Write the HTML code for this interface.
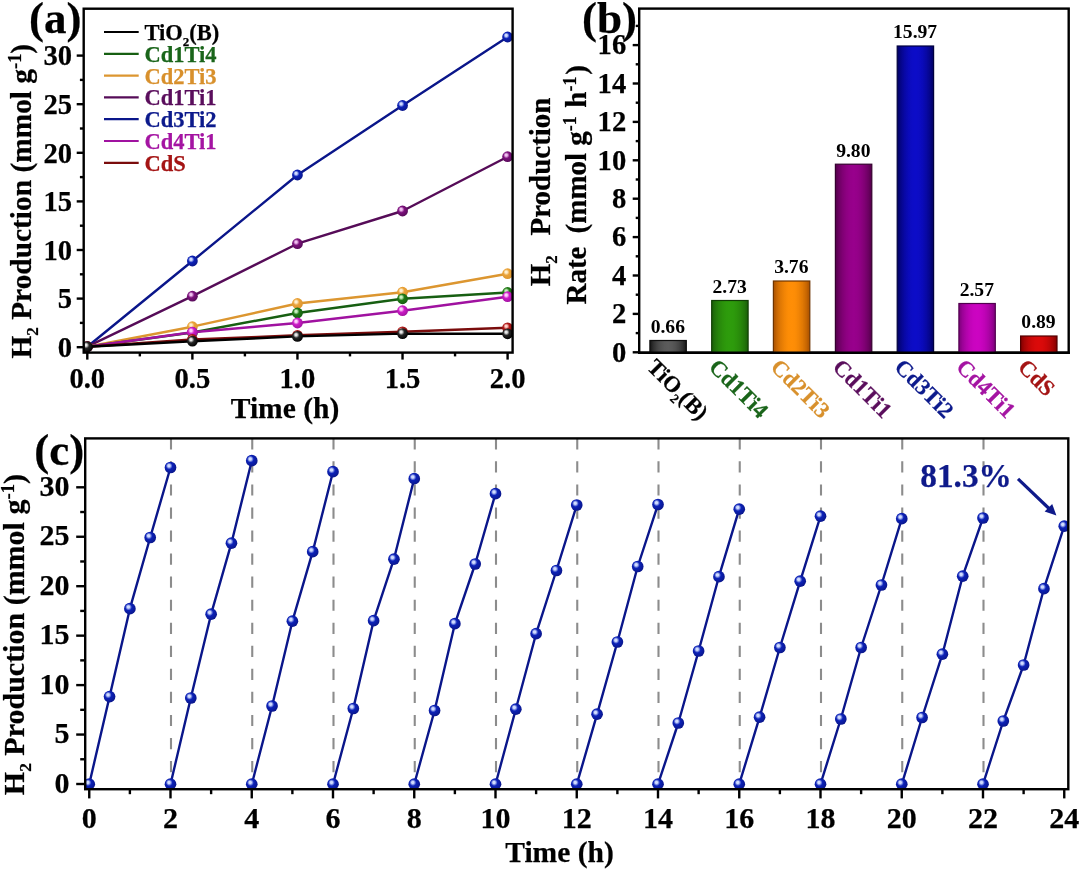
<!DOCTYPE html>
<html lang="en"><head><meta charset="utf-8"><title>H2 production figure</title>
<style>
html,body{margin:0;padding:0;background:#fff;}
body{width:1080px;height:871px;overflow:hidden;font-family:"Liberation Serif", serif;}
svg{display:block;filter:blur(0.35px);}
svg text{stroke-width:0.25px;stroke-linejoin:round;}
</style></head><body>
<svg width="1080" height="871" viewBox="0 0 1080 871" font-family='"Liberation Serif", serif' font-weight="bold">
<defs>
<radialGradient id="sk" cx="0.42" cy="0.40" r="0.62" fx="0.36" fy="0.34"><stop offset="0" stop-color="#e8e8e8"/><stop offset="0.16" stop-color="#e8e8e8"/><stop offset="0.46" stop-color="#262626"/><stop offset="1" stop-color="#000000"/></radialGradient>
<radialGradient id="sg" cx="0.42" cy="0.40" r="0.62" fx="0.36" fy="0.34"><stop offset="0" stop-color="#c8f0c0"/><stop offset="0.16" stop-color="#c8f0c0"/><stop offset="0.46" stop-color="#1f7a14"/><stop offset="1" stop-color="#175f12"/></radialGradient>
<radialGradient id="so" cx="0.42" cy="0.40" r="0.62" fx="0.36" fy="0.34"><stop offset="0" stop-color="#fff0d0"/><stop offset="0.16" stop-color="#fff0d0"/><stop offset="0.46" stop-color="#eaa238"/><stop offset="1" stop-color="#dc9630"/></radialGradient>
<radialGradient id="sp" cx="0.42" cy="0.40" r="0.62" fx="0.36" fy="0.34"><stop offset="0" stop-color="#f0c0f0"/><stop offset="0.16" stop-color="#f0c0f0"/><stop offset="0.46" stop-color="#7c107c"/><stop offset="1" stop-color="#560c58"/></radialGradient>
<radialGradient id="sb" cx="0.42" cy="0.40" r="0.62" fx="0.36" fy="0.34"><stop offset="0" stop-color="#d0dcff"/><stop offset="0.16" stop-color="#d0dcff"/><stop offset="0.46" stop-color="#0c22b8"/><stop offset="1" stop-color="#0a168a"/></radialGradient>
<radialGradient id="sm" cx="0.42" cy="0.40" r="0.62" fx="0.36" fy="0.34"><stop offset="0" stop-color="#ffd0fc"/><stop offset="0.16" stop-color="#ffd0fc"/><stop offset="0.46" stop-color="#cc1cc6"/><stop offset="1" stop-color="#a012a0"/></radialGradient>
<radialGradient id="sr" cx="0.42" cy="0.40" r="0.62" fx="0.36" fy="0.34"><stop offset="0" stop-color="#ffd0c8"/><stop offset="0.16" stop-color="#ffd0c8"/><stop offset="0.46" stop-color="#b01818"/><stop offset="1" stop-color="#7a0c0c"/></radialGradient>
<linearGradient id="bk" x1="0" x2="1" y1="0" y2="0"><stop offset="0.0" stop-color="#161616"/><stop offset="0.1" stop-color="#313131"/><stop offset="0.2" stop-color="#444444"/><stop offset="0.3" stop-color="#515151"/><stop offset="0.4" stop-color="#595959"/><stop offset="0.5" stop-color="#5c5c5c"/><stop offset="0.6" stop-color="#595959"/><stop offset="0.7" stop-color="#515151"/><stop offset="0.8" stop-color="#444444"/><stop offset="0.9" stop-color="#313131"/><stop offset="1.0" stop-color="#161616"/></linearGradient>
<linearGradient id="bg" x1="0" x2="1" y1="0" y2="0"><stop offset="0.0" stop-color="#1a5e08"/><stop offset="0.1" stop-color="#22760a"/><stop offset="0.2" stop-color="#27870b"/><stop offset="0.3" stop-color="#2b920b"/><stop offset="0.4" stop-color="#2d9a0c"/><stop offset="0.5" stop-color="#2e9c0c"/><stop offset="0.6" stop-color="#2d9a0c"/><stop offset="0.7" stop-color="#2b920b"/><stop offset="0.8" stop-color="#27870b"/><stop offset="0.9" stop-color="#22760a"/><stop offset="1.0" stop-color="#1a5e08"/></linearGradient>
<linearGradient id="bo" x1="0" x2="1" y1="0" y2="0"><stop offset="0.0" stop-color="#a85000"/><stop offset="0.1" stop-color="#ca6802"/><stop offset="0.2" stop-color="#e17904"/><stop offset="0.3" stop-color="#f18405"/><stop offset="0.4" stop-color="#fc8c06"/><stop offset="0.5" stop-color="#ff8e06"/><stop offset="0.6" stop-color="#fc8c06"/><stop offset="0.7" stop-color="#f18405"/><stop offset="0.8" stop-color="#e17904"/><stop offset="0.9" stop-color="#ca6802"/><stop offset="1.0" stop-color="#a85000"/></linearGradient>
<linearGradient id="bp" x1="0" x2="1" y1="0" y2="0"><stop offset="0.0" stop-color="#520048"/><stop offset="0.1" stop-color="#6d0063"/><stop offset="0.2" stop-color="#800074"/><stop offset="0.3" stop-color="#8d0081"/><stop offset="0.4" stop-color="#950089"/><stop offset="0.5" stop-color="#98008c"/><stop offset="0.6" stop-color="#950089"/><stop offset="0.7" stop-color="#8d0081"/><stop offset="0.8" stop-color="#800074"/><stop offset="0.9" stop-color="#6d0063"/><stop offset="1.0" stop-color="#520048"/></linearGradient>
<linearGradient id="bb" x1="0" x2="1" y1="0" y2="0"><stop offset="0.0" stop-color="#000060"/><stop offset="0.1" stop-color="#050589"/><stop offset="0.2" stop-color="#0808a4"/><stop offset="0.3" stop-color="#0a0ab8"/><stop offset="0.4" stop-color="#0c0cc4"/><stop offset="0.5" stop-color="#0c0cc8"/><stop offset="0.6" stop-color="#0c0cc4"/><stop offset="0.7" stop-color="#0a0ab8"/><stop offset="0.8" stop-color="#0808a4"/><stop offset="0.9" stop-color="#050589"/><stop offset="1.0" stop-color="#000060"/></linearGradient>
<linearGradient id="bm" x1="0" x2="1" y1="0" y2="0"><stop offset="0.0" stop-color="#7c007a"/><stop offset="0.1" stop-color="#9b0296"/><stop offset="0.2" stop-color="#b003a9"/><stop offset="0.3" stop-color="#c003b7"/><stop offset="0.4" stop-color="#c904bf"/><stop offset="0.5" stop-color="#cc04c2"/><stop offset="0.6" stop-color="#c904bf"/><stop offset="0.7" stop-color="#c003b7"/><stop offset="0.8" stop-color="#b003a9"/><stop offset="0.9" stop-color="#9b0296"/><stop offset="1.0" stop-color="#7c007a"/></linearGradient>
<linearGradient id="br" x1="0" x2="1" y1="0" y2="0"><stop offset="0.0" stop-color="#800000"/><stop offset="0.1" stop-color="#a40404"/><stop offset="0.2" stop-color="#bc0707"/><stop offset="0.3" stop-color="#ce0808"/><stop offset="0.4" stop-color="#d80a0a"/><stop offset="0.5" stop-color="#dc0a0a"/><stop offset="0.6" stop-color="#d80a0a"/><stop offset="0.7" stop-color="#ce0808"/><stop offset="0.8" stop-color="#bc0707"/><stop offset="0.9" stop-color="#a40404"/><stop offset="1.0" stop-color="#800000"/></linearGradient>
</defs>
<line x1="76.70" y1="347.20" x2="83.70" y2="347.20" stroke="#000" stroke-width="2.4" />
<text x="72.10" y="356.90" font-size="28.6" text-anchor="end" fill="#000" stroke="#000" >0</text>
<line x1="79.90" y1="322.90" x2="83.70" y2="322.90" stroke="#000" stroke-width="2.4" />
<line x1="76.70" y1="298.60" x2="83.70" y2="298.60" stroke="#000" stroke-width="2.4" />
<text x="72.10" y="308.30" font-size="28.6" text-anchor="end" fill="#000" stroke="#000" >5</text>
<line x1="79.90" y1="274.30" x2="83.70" y2="274.30" stroke="#000" stroke-width="2.4" />
<line x1="76.70" y1="250.00" x2="83.70" y2="250.00" stroke="#000" stroke-width="2.4" />
<text x="72.10" y="259.70" font-size="28.6" text-anchor="end" fill="#000" stroke="#000" >10</text>
<line x1="79.90" y1="225.70" x2="83.70" y2="225.70" stroke="#000" stroke-width="2.4" />
<line x1="76.70" y1="201.40" x2="83.70" y2="201.40" stroke="#000" stroke-width="2.4" />
<text x="72.10" y="211.10" font-size="28.6" text-anchor="end" fill="#000" stroke="#000" >15</text>
<line x1="79.90" y1="177.10" x2="83.70" y2="177.10" stroke="#000" stroke-width="2.4" />
<line x1="76.70" y1="152.80" x2="83.70" y2="152.80" stroke="#000" stroke-width="2.4" />
<text x="72.10" y="162.50" font-size="28.6" text-anchor="end" fill="#000" stroke="#000" >20</text>
<line x1="79.90" y1="128.50" x2="83.70" y2="128.50" stroke="#000" stroke-width="2.4" />
<line x1="76.70" y1="104.20" x2="83.70" y2="104.20" stroke="#000" stroke-width="2.4" />
<text x="72.10" y="113.90" font-size="28.6" text-anchor="end" fill="#000" stroke="#000" >25</text>
<line x1="79.90" y1="79.90" x2="83.70" y2="79.90" stroke="#000" stroke-width="2.4" />
<line x1="76.70" y1="55.60" x2="83.70" y2="55.60" stroke="#000" stroke-width="2.4" />
<text x="72.10" y="65.30" font-size="28.6" text-anchor="end" fill="#000" stroke="#000" >30</text>
<line x1="87.30" y1="352.60" x2="87.30" y2="359.60" stroke="#000" stroke-width="2.4" />
<text x="87.30" y="388.00" font-size="28.6" text-anchor="middle" fill="#000" stroke="#000" >0.0</text>
<line x1="139.84" y1="352.60" x2="139.84" y2="356.40" stroke="#000" stroke-width="2.4" />
<line x1="192.38" y1="352.60" x2="192.38" y2="359.60" stroke="#000" stroke-width="2.4" />
<text x="192.38" y="388.00" font-size="28.6" text-anchor="middle" fill="#000" stroke="#000" >0.5</text>
<line x1="244.91" y1="352.60" x2="244.91" y2="356.40" stroke="#000" stroke-width="2.4" />
<line x1="297.45" y1="352.60" x2="297.45" y2="359.60" stroke="#000" stroke-width="2.4" />
<text x="297.45" y="388.00" font-size="28.6" text-anchor="middle" fill="#000" stroke="#000" >1.0</text>
<line x1="349.99" y1="352.60" x2="349.99" y2="356.40" stroke="#000" stroke-width="2.4" />
<line x1="402.53" y1="352.60" x2="402.53" y2="359.60" stroke="#000" stroke-width="2.4" />
<text x="402.53" y="388.00" font-size="28.6" text-anchor="middle" fill="#000" stroke="#000" >1.5</text>
<line x1="455.06" y1="352.60" x2="455.06" y2="356.40" stroke="#000" stroke-width="2.4" />
<line x1="507.60" y1="352.60" x2="507.60" y2="359.60" stroke="#000" stroke-width="2.4" />
<text x="507.60" y="388.00" font-size="28.6" text-anchor="middle" fill="#000" stroke="#000" >2.0</text>
<text x="285.00" y="418.30" font-size="29.5" text-anchor="middle" fill="#000" stroke="#000" >Time (h)</text>
<text transform="translate(30.6,358.6) rotate(-90)" font-size="29.4" text-anchor="start" stroke="#000">H<tspan dy="7.3" font-size="17.1">2</tspan><tspan dy="-7.3"> Production (mmol g</tspan><tspan dy="-9.7" font-size="18.2">-1</tspan><tspan dy="9.7">)</tspan></text>
<text x="29.00" y="33.00" font-size="45" text-anchor="start" fill="#000" stroke="#000" >(a)</text>
<clipPath id="clipA"><rect x="83.7" y="8.7" width="428.90000000000003" height="343.90000000000003"/></clipPath>
<g clip-path="url(#clipA)">
<polyline points="87.3,346.7 192.4,261.0 297.4,175.0 402.5,105.5 507.6,37.0" fill="none" stroke="#0a168a" stroke-width="2.4" stroke-linejoin="round"/>
<circle cx="87.30" cy="346.70" r="5.4" fill="url(#sb)"/>
<circle cx="192.38" cy="261.00" r="5.4" fill="url(#sb)"/>
<circle cx="297.45" cy="175.00" r="5.4" fill="url(#sb)"/>
<circle cx="402.53" cy="105.50" r="5.4" fill="url(#sb)"/>
<circle cx="507.60" cy="37.00" r="5.4" fill="url(#sb)"/>
<polyline points="87.3,346.7 192.4,296.2 297.4,243.7 402.5,211.0 507.6,156.7" fill="none" stroke="#560c58" stroke-width="2.4" stroke-linejoin="round"/>
<circle cx="87.30" cy="346.70" r="5.4" fill="url(#sp)"/>
<circle cx="192.38" cy="296.20" r="5.4" fill="url(#sp)"/>
<circle cx="297.45" cy="243.70" r="5.4" fill="url(#sp)"/>
<circle cx="402.53" cy="211.00" r="5.4" fill="url(#sp)"/>
<circle cx="507.60" cy="156.70" r="5.4" fill="url(#sp)"/>
<polyline points="87.3,346.7 192.4,326.7 297.4,303.5 402.5,292.2 507.6,273.7" fill="none" stroke="#dc9630" stroke-width="2.4" stroke-linejoin="round"/>
<circle cx="87.30" cy="346.70" r="5.4" fill="url(#so)"/>
<circle cx="192.38" cy="326.70" r="5.4" fill="url(#so)"/>
<circle cx="297.45" cy="303.50" r="5.4" fill="url(#so)"/>
<circle cx="402.53" cy="292.20" r="5.4" fill="url(#so)"/>
<circle cx="507.60" cy="273.70" r="5.4" fill="url(#so)"/>
<polyline points="87.3,346.7 192.4,332.5 297.4,313.0 402.5,298.8 507.6,292.5" fill="none" stroke="#175f12" stroke-width="2.4" stroke-linejoin="round"/>
<circle cx="87.30" cy="346.70" r="5.4" fill="url(#sg)"/>
<circle cx="192.38" cy="332.50" r="5.4" fill="url(#sg)"/>
<circle cx="297.45" cy="313.00" r="5.4" fill="url(#sg)"/>
<circle cx="402.53" cy="298.80" r="5.4" fill="url(#sg)"/>
<circle cx="507.60" cy="292.50" r="5.4" fill="url(#sg)"/>
<polyline points="87.3,346.7 192.4,332.2 297.4,323.0 402.5,310.7 507.6,296.7" fill="none" stroke="#a012a0" stroke-width="2.4" stroke-linejoin="round"/>
<circle cx="87.30" cy="346.70" r="5.4" fill="url(#sm)"/>
<circle cx="192.38" cy="332.20" r="5.4" fill="url(#sm)"/>
<circle cx="297.45" cy="323.00" r="5.4" fill="url(#sm)"/>
<circle cx="402.53" cy="310.70" r="5.4" fill="url(#sm)"/>
<circle cx="507.60" cy="296.70" r="5.4" fill="url(#sm)"/>
<polyline points="87.3,346.7 192.4,339.5 297.4,335.3 402.5,331.8 507.6,327.8" fill="none" stroke="#7a0c0c" stroke-width="2.4" stroke-linejoin="round"/>
<circle cx="87.30" cy="346.70" r="5.4" fill="url(#sr)"/>
<circle cx="192.38" cy="339.50" r="5.4" fill="url(#sr)"/>
<circle cx="297.45" cy="335.30" r="5.4" fill="url(#sr)"/>
<circle cx="402.53" cy="331.80" r="5.4" fill="url(#sr)"/>
<circle cx="507.60" cy="327.80" r="5.4" fill="url(#sr)"/>
<polyline points="87.3,346.7 192.4,341.2 297.4,336.4 402.5,333.6 507.6,333.8" fill="none" stroke="#000000" stroke-width="2.4" stroke-linejoin="round"/>
<circle cx="87.30" cy="346.70" r="5.4" fill="url(#sk)"/>
<circle cx="192.38" cy="341.20" r="5.4" fill="url(#sk)"/>
<circle cx="297.45" cy="336.40" r="5.4" fill="url(#sk)"/>
<circle cx="402.53" cy="333.60" r="5.4" fill="url(#sk)"/>
<circle cx="507.60" cy="333.80" r="5.4" fill="url(#sk)"/>
</g>
<rect x="83.7" y="8.7" width="428.90000000000003" height="343.90000000000003" fill="none" stroke="#000" stroke-width="2.4"/>
<line x1="104.00" y1="32.00" x2="138.70" y2="32.00" stroke="#000000" stroke-width="2.2" />
<text x="144.50" y="39.90" font-size="22.5" text-anchor="start" fill="#000000" stroke="#000000" >TiO<tspan dy="5.6" font-size="13.0">2</tspan><tspan dy="-5.6">(B)</tspan></text>
<line x1="104.00" y1="53.80" x2="138.70" y2="53.80" stroke="#175f12" stroke-width="2.2" />
<text x="144.50" y="61.70" font-size="22.5" text-anchor="start" fill="#1a651a" stroke="#1a651a" >Cd1Ti4</text>
<line x1="104.00" y1="75.60" x2="138.70" y2="75.60" stroke="#dc9630" stroke-width="2.2" />
<text x="144.50" y="83.50" font-size="22.5" text-anchor="start" fill="#d8902c" stroke="#d8902c" >Cd2Ti3</text>
<line x1="104.00" y1="97.40" x2="138.70" y2="97.40" stroke="#560c58" stroke-width="2.2" />
<text x="144.50" y="105.30" font-size="22.5" text-anchor="start" fill="#5a0e5c" stroke="#5a0e5c" >Cd1Ti1</text>
<line x1="104.00" y1="119.20" x2="138.70" y2="119.20" stroke="#0a168a" stroke-width="2.2" />
<text x="144.50" y="127.10" font-size="22.5" text-anchor="start" fill="#0c1a8c" stroke="#0c1a8c" >Cd3Ti2</text>
<line x1="104.00" y1="141.00" x2="138.70" y2="141.00" stroke="#a012a0" stroke-width="2.2" />
<text x="144.50" y="148.90" font-size="22.5" text-anchor="start" fill="#a414a2" stroke="#a414a2" >Cd4Ti1</text>
<line x1="104.00" y1="162.80" x2="138.70" y2="162.80" stroke="#7a0c0c" stroke-width="2.2" />
<text x="144.50" y="170.70" font-size="22.5" text-anchor="start" fill="#a41414" stroke="#a41414" >CdS</text>
<rect x="639.2" y="8.6" width="429.5" height="344.09999999999997" fill="none" stroke="#000" stroke-width="2.4"/>
<line x1="632.70" y1="352.30" x2="639.20" y2="352.30" stroke="#000" stroke-width="2.4" />
<text x="626.20" y="361.60" font-size="28.6" text-anchor="end" fill="#000" stroke="#000" >0</text>
<line x1="635.70" y1="333.10" x2="639.20" y2="333.10" stroke="#000" stroke-width="2.4" />
<line x1="632.70" y1="313.90" x2="639.20" y2="313.90" stroke="#000" stroke-width="2.4" />
<text x="626.20" y="323.20" font-size="28.6" text-anchor="end" fill="#000" stroke="#000" >2</text>
<line x1="635.70" y1="294.70" x2="639.20" y2="294.70" stroke="#000" stroke-width="2.4" />
<line x1="632.70" y1="275.50" x2="639.20" y2="275.50" stroke="#000" stroke-width="2.4" />
<text x="626.20" y="284.80" font-size="28.6" text-anchor="end" fill="#000" stroke="#000" >4</text>
<line x1="635.70" y1="256.30" x2="639.20" y2="256.30" stroke="#000" stroke-width="2.4" />
<line x1="632.70" y1="237.10" x2="639.20" y2="237.10" stroke="#000" stroke-width="2.4" />
<text x="626.20" y="246.40" font-size="28.6" text-anchor="end" fill="#000" stroke="#000" >6</text>
<line x1="635.70" y1="217.90" x2="639.20" y2="217.90" stroke="#000" stroke-width="2.4" />
<line x1="632.70" y1="198.70" x2="639.20" y2="198.70" stroke="#000" stroke-width="2.4" />
<text x="626.20" y="208.00" font-size="28.6" text-anchor="end" fill="#000" stroke="#000" >8</text>
<line x1="635.70" y1="179.50" x2="639.20" y2="179.50" stroke="#000" stroke-width="2.4" />
<line x1="632.70" y1="160.30" x2="639.20" y2="160.30" stroke="#000" stroke-width="2.4" />
<text x="626.20" y="169.60" font-size="28.6" text-anchor="end" fill="#000" stroke="#000" >10</text>
<line x1="635.70" y1="141.10" x2="639.20" y2="141.10" stroke="#000" stroke-width="2.4" />
<line x1="632.70" y1="121.90" x2="639.20" y2="121.90" stroke="#000" stroke-width="2.4" />
<text x="626.20" y="131.20" font-size="28.6" text-anchor="end" fill="#000" stroke="#000" >12</text>
<line x1="635.70" y1="102.70" x2="639.20" y2="102.70" stroke="#000" stroke-width="2.4" />
<line x1="632.70" y1="83.50" x2="639.20" y2="83.50" stroke="#000" stroke-width="2.4" />
<text x="626.20" y="92.80" font-size="28.6" text-anchor="end" fill="#000" stroke="#000" >14</text>
<line x1="635.70" y1="64.30" x2="639.20" y2="64.30" stroke="#000" stroke-width="2.4" />
<line x1="632.70" y1="45.10" x2="639.20" y2="45.10" stroke="#000" stroke-width="2.4" />
<text x="626.20" y="54.40" font-size="28.6" text-anchor="end" fill="#000" stroke="#000" >16</text>
<line x1="635.70" y1="25.90" x2="639.20" y2="25.90" stroke="#000" stroke-width="2.4" />
<rect x="649.9" y="340.5" width="36.4" height="12.2" fill="url(#bk)" stroke="#0e0e0e" stroke-width="1.2"/>
<text x="667.80" y="332.90" font-size="19.6" text-anchor="middle" fill="#000" stroke="#000" style="stroke-width:0">0.66</text>
<text transform="translate(646.0,368.2) rotate(45)" font-size="22.6" text-anchor="start" fill="#000000" stroke="#000000">TiO<tspan dy="5.7" font-size="13.1">2</tspan><tspan dy="-5.7">(B)</tspan></text>
<rect x="711.7" y="300.5" width="36.4" height="52.2" fill="url(#bg)" stroke="#113d05" stroke-width="1.2"/>
<text x="729.60" y="292.90" font-size="19.6" text-anchor="middle" fill="#000" stroke="#000" style="stroke-width:0">2.73</text>
<text transform="translate(707.8,368.2) rotate(45)" font-size="22.6" text-anchor="start" fill="#1a651a" stroke="#1a651a">Cd1Ti4</text>
<rect x="773.4" y="281.0" width="36.4" height="71.7" fill="url(#bo)" stroke="#6d3400" stroke-width="1.2"/>
<text x="791.30" y="273.40" font-size="19.6" text-anchor="middle" fill="#000" stroke="#000" style="stroke-width:0">3.76</text>
<text transform="translate(769.5,368.2) rotate(45)" font-size="22.6" text-anchor="start" fill="#d8902c" stroke="#d8902c">Cd2Ti3</text>
<rect x="835.4" y="164.2" width="36.4" height="188.5" fill="url(#bp)" stroke="#35002f" stroke-width="1.2"/>
<text x="853.30" y="156.60" font-size="19.6" text-anchor="middle" fill="#000" stroke="#000" style="stroke-width:0">9.80</text>
<text transform="translate(831.5,368.2) rotate(45)" font-size="22.6" text-anchor="start" fill="#5a0e5c" stroke="#5a0e5c">Cd1Ti1</text>
<rect x="897.2" y="46.0" width="36.4" height="306.7" fill="url(#bb)" stroke="#00003e" stroke-width="1.2"/>
<text x="915.10" y="38.40" font-size="19.6" text-anchor="middle" fill="#000" stroke="#000" style="stroke-width:0">15.97</text>
<text transform="translate(893.3,368.2) rotate(45)" font-size="22.6" text-anchor="start" fill="#0c1a8c" stroke="#0c1a8c">Cd3Ti2</text>
<rect x="958.9" y="303.5" width="36.4" height="49.2" fill="url(#bm)" stroke="#51004f" stroke-width="1.2"/>
<text x="976.80" y="295.90" font-size="19.6" text-anchor="middle" fill="#000" stroke="#000" style="stroke-width:0">2.57</text>
<text transform="translate(955.0,368.2) rotate(45)" font-size="22.6" text-anchor="start" fill="#a414a2" stroke="#a414a2">Cd4Ti1</text>
<rect x="1020.6" y="336.0" width="36.4" height="16.7" fill="url(#br)" stroke="#530000" stroke-width="1.2"/>
<text x="1038.50" y="328.40" font-size="19.6" text-anchor="middle" fill="#000" stroke="#000" style="stroke-width:0">0.89</text>
<text transform="translate(1016.7,368.2) rotate(45)" font-size="22.6" text-anchor="start" fill="#a41414" stroke="#a41414">CdS</text>
<line x1="638.00" y1="352.70" x2="1069.90" y2="352.70" stroke="#000" stroke-width="2.4" />
<text transform="translate(550.2,286.3) rotate(-90)" font-size="29" text-anchor="start" stroke="#000" xml:space="preserve">H<tspan dy="7.2" font-size="16.8">2</tspan><tspan dy="-7.2" dx="5.3">&#160; Production</tspan></text>
<text transform="translate(586,304.5) rotate(-90)" font-size="29" text-anchor="start" stroke="#000" xml:space="preserve">Rate&#160; <tspan dx="-1.4">(mmol</tspan> g<tspan dy="-9.6" font-size="18.0">-1</tspan><tspan dy="9.6" dx="1.2"> h</tspan><tspan dy="-9.6" font-size="18.0">-1</tspan><tspan dy="9.6" dx="1.8">)</tspan></text>
<text x="582.00" y="33.00" font-size="45" text-anchor="start" fill="#000" stroke="#000" >(b)</text>
<line x1="171.00" y1="438.30" x2="171.00" y2="788.20" stroke="#8c8c8c" stroke-width="2.1" stroke-dasharray="11.2 11.85"/>
<line x1="252.25" y1="438.30" x2="252.25" y2="788.20" stroke="#8c8c8c" stroke-width="2.1" stroke-dasharray="11.2 11.85"/>
<line x1="333.50" y1="438.30" x2="333.50" y2="788.20" stroke="#8c8c8c" stroke-width="2.1" stroke-dasharray="11.2 11.85"/>
<line x1="414.75" y1="438.30" x2="414.75" y2="788.20" stroke="#8c8c8c" stroke-width="2.1" stroke-dasharray="11.2 11.85"/>
<line x1="496.00" y1="438.30" x2="496.00" y2="788.20" stroke="#8c8c8c" stroke-width="2.1" stroke-dasharray="11.2 11.85"/>
<line x1="577.25" y1="438.30" x2="577.25" y2="788.20" stroke="#8c8c8c" stroke-width="2.1" stroke-dasharray="11.2 11.85"/>
<line x1="658.50" y1="438.30" x2="658.50" y2="788.20" stroke="#8c8c8c" stroke-width="2.1" stroke-dasharray="11.2 11.85"/>
<line x1="739.75" y1="438.30" x2="739.75" y2="788.20" stroke="#8c8c8c" stroke-width="2.1" stroke-dasharray="11.2 11.85"/>
<line x1="821.00" y1="438.30" x2="821.00" y2="788.20" stroke="#8c8c8c" stroke-width="2.1" stroke-dasharray="11.2 11.85"/>
<line x1="902.25" y1="438.30" x2="902.25" y2="788.20" stroke="#8c8c8c" stroke-width="2.1" stroke-dasharray="11.2 11.85"/>
<line x1="983.50" y1="438.30" x2="983.50" y2="788.20" stroke="#8c8c8c" stroke-width="2.1" stroke-dasharray="11.2 11.85"/>
<line x1="76.20" y1="784.00" x2="85.20" y2="784.00" stroke="#000" stroke-width="2.4" />
<text x="69.60" y="792.50" font-size="30" text-anchor="end" fill="#000" stroke="#000" >0</text>
<line x1="80.20" y1="759.27" x2="85.20" y2="759.27" stroke="#000" stroke-width="2.4" />
<line x1="76.20" y1="734.55" x2="85.20" y2="734.55" stroke="#000" stroke-width="2.4" />
<text x="69.60" y="743.05" font-size="30" text-anchor="end" fill="#000" stroke="#000" >5</text>
<line x1="80.20" y1="709.83" x2="85.20" y2="709.83" stroke="#000" stroke-width="2.4" />
<line x1="76.20" y1="685.10" x2="85.20" y2="685.10" stroke="#000" stroke-width="2.4" />
<text x="69.60" y="693.60" font-size="30" text-anchor="end" fill="#000" stroke="#000" >10</text>
<line x1="80.20" y1="660.38" x2="85.20" y2="660.38" stroke="#000" stroke-width="2.4" />
<line x1="76.20" y1="635.65" x2="85.20" y2="635.65" stroke="#000" stroke-width="2.4" />
<text x="69.60" y="644.15" font-size="30" text-anchor="end" fill="#000" stroke="#000" >15</text>
<line x1="80.20" y1="610.92" x2="85.20" y2="610.92" stroke="#000" stroke-width="2.4" />
<line x1="76.20" y1="586.20" x2="85.20" y2="586.20" stroke="#000" stroke-width="2.4" />
<text x="69.60" y="594.70" font-size="30" text-anchor="end" fill="#000" stroke="#000" >20</text>
<line x1="80.20" y1="561.48" x2="85.20" y2="561.48" stroke="#000" stroke-width="2.4" />
<line x1="76.20" y1="536.75" x2="85.20" y2="536.75" stroke="#000" stroke-width="2.4" />
<text x="69.60" y="545.25" font-size="30" text-anchor="end" fill="#000" stroke="#000" >25</text>
<line x1="80.20" y1="512.02" x2="85.20" y2="512.02" stroke="#000" stroke-width="2.4" />
<line x1="76.20" y1="487.30" x2="85.20" y2="487.30" stroke="#000" stroke-width="2.4" />
<text x="69.60" y="495.80" font-size="30" text-anchor="end" fill="#000" stroke="#000" >30</text>
<line x1="89.25" y1="789.20" x2="89.25" y2="798.40" stroke="#000" stroke-width="2.4" />
<text x="89.25" y="828.20" font-size="30" text-anchor="middle" fill="#000" stroke="#000" >0</text>
<line x1="129.88" y1="789.20" x2="129.88" y2="794.20" stroke="#000" stroke-width="2.4" />
<line x1="170.50" y1="789.20" x2="170.50" y2="798.40" stroke="#000" stroke-width="2.4" />
<text x="170.50" y="828.20" font-size="30" text-anchor="middle" fill="#000" stroke="#000" >2</text>
<line x1="211.12" y1="789.20" x2="211.12" y2="794.20" stroke="#000" stroke-width="2.4" />
<line x1="251.75" y1="789.20" x2="251.75" y2="798.40" stroke="#000" stroke-width="2.4" />
<text x="251.75" y="828.20" font-size="30" text-anchor="middle" fill="#000" stroke="#000" >4</text>
<line x1="292.38" y1="789.20" x2="292.38" y2="794.20" stroke="#000" stroke-width="2.4" />
<line x1="333.00" y1="789.20" x2="333.00" y2="798.40" stroke="#000" stroke-width="2.4" />
<text x="333.00" y="828.20" font-size="30" text-anchor="middle" fill="#000" stroke="#000" >6</text>
<line x1="373.62" y1="789.20" x2="373.62" y2="794.20" stroke="#000" stroke-width="2.4" />
<line x1="414.25" y1="789.20" x2="414.25" y2="798.40" stroke="#000" stroke-width="2.4" />
<text x="414.25" y="828.20" font-size="30" text-anchor="middle" fill="#000" stroke="#000" >8</text>
<line x1="454.88" y1="789.20" x2="454.88" y2="794.20" stroke="#000" stroke-width="2.4" />
<line x1="495.50" y1="789.20" x2="495.50" y2="798.40" stroke="#000" stroke-width="2.4" />
<text x="495.50" y="828.20" font-size="30" text-anchor="middle" fill="#000" stroke="#000" >10</text>
<line x1="536.12" y1="789.20" x2="536.12" y2="794.20" stroke="#000" stroke-width="2.4" />
<line x1="576.75" y1="789.20" x2="576.75" y2="798.40" stroke="#000" stroke-width="2.4" />
<text x="576.75" y="828.20" font-size="30" text-anchor="middle" fill="#000" stroke="#000" >12</text>
<line x1="617.38" y1="789.20" x2="617.38" y2="794.20" stroke="#000" stroke-width="2.4" />
<line x1="658.00" y1="789.20" x2="658.00" y2="798.40" stroke="#000" stroke-width="2.4" />
<text x="658.00" y="828.20" font-size="30" text-anchor="middle" fill="#000" stroke="#000" >14</text>
<line x1="698.62" y1="789.20" x2="698.62" y2="794.20" stroke="#000" stroke-width="2.4" />
<line x1="739.25" y1="789.20" x2="739.25" y2="798.40" stroke="#000" stroke-width="2.4" />
<text x="739.25" y="828.20" font-size="30" text-anchor="middle" fill="#000" stroke="#000" >16</text>
<line x1="779.88" y1="789.20" x2="779.88" y2="794.20" stroke="#000" stroke-width="2.4" />
<line x1="820.50" y1="789.20" x2="820.50" y2="798.40" stroke="#000" stroke-width="2.4" />
<text x="820.50" y="828.20" font-size="30" text-anchor="middle" fill="#000" stroke="#000" >18</text>
<line x1="861.12" y1="789.20" x2="861.12" y2="794.20" stroke="#000" stroke-width="2.4" />
<line x1="901.75" y1="789.20" x2="901.75" y2="798.40" stroke="#000" stroke-width="2.4" />
<text x="901.75" y="828.20" font-size="30" text-anchor="middle" fill="#000" stroke="#000" >20</text>
<line x1="942.38" y1="789.20" x2="942.38" y2="794.20" stroke="#000" stroke-width="2.4" />
<line x1="983.00" y1="789.20" x2="983.00" y2="798.40" stroke="#000" stroke-width="2.4" />
<text x="983.00" y="828.20" font-size="30" text-anchor="middle" fill="#000" stroke="#000" >22</text>
<line x1="1023.62" y1="789.20" x2="1023.62" y2="794.20" stroke="#000" stroke-width="2.4" />
<line x1="1064.25" y1="789.20" x2="1064.25" y2="798.40" stroke="#000" stroke-width="2.4" />
<text x="1064.25" y="828.20" font-size="30" text-anchor="middle" fill="#000" stroke="#000" >24</text>
<text x="559.50" y="862.40" font-size="29.5" text-anchor="middle" fill="#000" stroke="#000" >Time (h)</text>
<text transform="translate(23.8,795.2) rotate(-90)" font-size="30" text-anchor="start" stroke="#000">H<tspan dy="7.5" font-size="17.4">2</tspan><tspan dy="-7.5"> Production (mmol g</tspan><tspan dy="-9.9" font-size="18.6">-1</tspan><tspan dy="9.9">)</tspan></text>
<text x="34.30" y="464.60" font-size="45" text-anchor="start" fill="#000" stroke="#000" >(c)</text>
<clipPath id="clipC"><rect x="85.2" y="438.4" width="983.0999999999999" height="350.80000000000007"/></clipPath>
<g clip-path="url(#clipC)">
<polyline points="89.2,784.2 109.6,696.6 129.9,608.7 150.2,537.5 170.5,467.5" fill="none" stroke="#0a168a" stroke-width="2.4" stroke-linejoin="round"/>
<polyline points="170.5,784.2 190.8,698.0 211.1,614.2 231.4,543.2 251.8,460.7" fill="none" stroke="#0a168a" stroke-width="2.4" stroke-linejoin="round"/>
<polyline points="251.8,784.2 272.1,706.0 292.4,621.2 312.7,551.7 333.0,471.7" fill="none" stroke="#0a168a" stroke-width="2.4" stroke-linejoin="round"/>
<polyline points="333.0,784.2 353.3,708.5 373.6,620.7 393.9,559.2 414.2,478.7" fill="none" stroke="#0a168a" stroke-width="2.4" stroke-linejoin="round"/>
<polyline points="414.2,784.2 434.6,710.5 454.9,623.7 475.2,564.0 495.5,493.7" fill="none" stroke="#0a168a" stroke-width="2.4" stroke-linejoin="round"/>
<polyline points="495.5,784.2 515.8,709.2 536.1,633.7 556.4,570.5 576.8,505.0" fill="none" stroke="#0a168a" stroke-width="2.4" stroke-linejoin="round"/>
<polyline points="576.8,784.2 597.1,714.2 617.4,642.0 637.7,566.5 658.0,504.5" fill="none" stroke="#0a168a" stroke-width="2.4" stroke-linejoin="round"/>
<polyline points="658.0,784.2 678.3,723.0 698.6,651.0 718.9,576.7 739.2,509.2" fill="none" stroke="#0a168a" stroke-width="2.4" stroke-linejoin="round"/>
<polyline points="739.2,784.2 759.6,717.2 779.9,647.5 800.2,581.2 820.5,516.2" fill="none" stroke="#0a168a" stroke-width="2.4" stroke-linejoin="round"/>
<polyline points="820.5,784.2 840.8,719.0 861.1,647.5 881.4,585.0 901.8,518.7" fill="none" stroke="#0a168a" stroke-width="2.4" stroke-linejoin="round"/>
<polyline points="901.8,784.2 922.1,717.5 942.4,654.2 962.7,576.2 983.0,518.0" fill="none" stroke="#0a168a" stroke-width="2.4" stroke-linejoin="round"/>
<polyline points="983.0,784.2 1003.3,721.0 1023.6,665.0 1043.9,588.7 1064.2,526.2" fill="none" stroke="#0a168a" stroke-width="2.4" stroke-linejoin="round"/>
<circle cx="89.25" cy="784.20" r="5.85" fill="url(#sb)"/>
<circle cx="109.56" cy="696.60" r="5.85" fill="url(#sb)"/>
<circle cx="129.88" cy="608.70" r="5.85" fill="url(#sb)"/>
<circle cx="150.19" cy="537.50" r="5.85" fill="url(#sb)"/>
<circle cx="170.50" cy="467.50" r="5.85" fill="url(#sb)"/>
<circle cx="170.50" cy="784.20" r="5.85" fill="url(#sb)"/>
<circle cx="190.81" cy="698.00" r="5.85" fill="url(#sb)"/>
<circle cx="211.12" cy="614.20" r="5.85" fill="url(#sb)"/>
<circle cx="231.44" cy="543.20" r="5.85" fill="url(#sb)"/>
<circle cx="251.75" cy="460.70" r="5.85" fill="url(#sb)"/>
<circle cx="251.75" cy="784.20" r="5.85" fill="url(#sb)"/>
<circle cx="272.06" cy="706.00" r="5.85" fill="url(#sb)"/>
<circle cx="292.38" cy="621.20" r="5.85" fill="url(#sb)"/>
<circle cx="312.69" cy="551.70" r="5.85" fill="url(#sb)"/>
<circle cx="333.00" cy="471.70" r="5.85" fill="url(#sb)"/>
<circle cx="333.00" cy="784.20" r="5.85" fill="url(#sb)"/>
<circle cx="353.31" cy="708.50" r="5.85" fill="url(#sb)"/>
<circle cx="373.62" cy="620.70" r="5.85" fill="url(#sb)"/>
<circle cx="393.94" cy="559.20" r="5.85" fill="url(#sb)"/>
<circle cx="414.25" cy="478.70" r="5.85" fill="url(#sb)"/>
<circle cx="414.25" cy="784.20" r="5.85" fill="url(#sb)"/>
<circle cx="434.56" cy="710.50" r="5.85" fill="url(#sb)"/>
<circle cx="454.88" cy="623.70" r="5.85" fill="url(#sb)"/>
<circle cx="475.19" cy="564.00" r="5.85" fill="url(#sb)"/>
<circle cx="495.50" cy="493.70" r="5.85" fill="url(#sb)"/>
<circle cx="495.50" cy="784.20" r="5.85" fill="url(#sb)"/>
<circle cx="515.81" cy="709.20" r="5.85" fill="url(#sb)"/>
<circle cx="536.12" cy="633.70" r="5.85" fill="url(#sb)"/>
<circle cx="556.44" cy="570.50" r="5.85" fill="url(#sb)"/>
<circle cx="576.75" cy="505.00" r="5.85" fill="url(#sb)"/>
<circle cx="576.75" cy="784.20" r="5.85" fill="url(#sb)"/>
<circle cx="597.06" cy="714.20" r="5.85" fill="url(#sb)"/>
<circle cx="617.38" cy="642.00" r="5.85" fill="url(#sb)"/>
<circle cx="637.69" cy="566.50" r="5.85" fill="url(#sb)"/>
<circle cx="658.00" cy="504.50" r="5.85" fill="url(#sb)"/>
<circle cx="658.00" cy="784.20" r="5.85" fill="url(#sb)"/>
<circle cx="678.31" cy="723.00" r="5.85" fill="url(#sb)"/>
<circle cx="698.62" cy="651.00" r="5.85" fill="url(#sb)"/>
<circle cx="718.94" cy="576.70" r="5.85" fill="url(#sb)"/>
<circle cx="739.25" cy="509.20" r="5.85" fill="url(#sb)"/>
<circle cx="739.25" cy="784.20" r="5.85" fill="url(#sb)"/>
<circle cx="759.56" cy="717.20" r="5.85" fill="url(#sb)"/>
<circle cx="779.88" cy="647.50" r="5.85" fill="url(#sb)"/>
<circle cx="800.19" cy="581.20" r="5.85" fill="url(#sb)"/>
<circle cx="820.50" cy="516.20" r="5.85" fill="url(#sb)"/>
<circle cx="820.50" cy="784.20" r="5.85" fill="url(#sb)"/>
<circle cx="840.81" cy="719.00" r="5.85" fill="url(#sb)"/>
<circle cx="861.12" cy="647.50" r="5.85" fill="url(#sb)"/>
<circle cx="881.44" cy="585.00" r="5.85" fill="url(#sb)"/>
<circle cx="901.75" cy="518.70" r="5.85" fill="url(#sb)"/>
<circle cx="901.75" cy="784.20" r="5.85" fill="url(#sb)"/>
<circle cx="922.06" cy="717.50" r="5.85" fill="url(#sb)"/>
<circle cx="942.38" cy="654.20" r="5.85" fill="url(#sb)"/>
<circle cx="962.69" cy="576.20" r="5.85" fill="url(#sb)"/>
<circle cx="983.00" cy="518.00" r="5.85" fill="url(#sb)"/>
<circle cx="983.00" cy="784.20" r="5.85" fill="url(#sb)"/>
<circle cx="1003.31" cy="721.00" r="5.85" fill="url(#sb)"/>
<circle cx="1023.62" cy="665.00" r="5.85" fill="url(#sb)"/>
<circle cx="1043.94" cy="588.70" r="5.85" fill="url(#sb)"/>
<circle cx="1064.25" cy="526.20" r="5.85" fill="url(#sb)"/>
</g>
<rect x="85.2" y="438.4" width="983.0999999999999" height="350.80000000000007" fill="none" stroke="#000" stroke-width="2.4"/>
<text x="920.30" y="487.00" font-size="33.3" text-anchor="start" fill="#0f1a8a" stroke="#0f1a8a" >81.3%</text>
<line x1="1018" y1="478.8" x2="1049.5" y2="509" stroke="#0f1a8a" stroke-width="3.2"/>
<polygon points="1056.4,515.5 1044.6,511.6 1052.2,503.9" fill="#0f1a8a"/>
</svg>
</body></html>
